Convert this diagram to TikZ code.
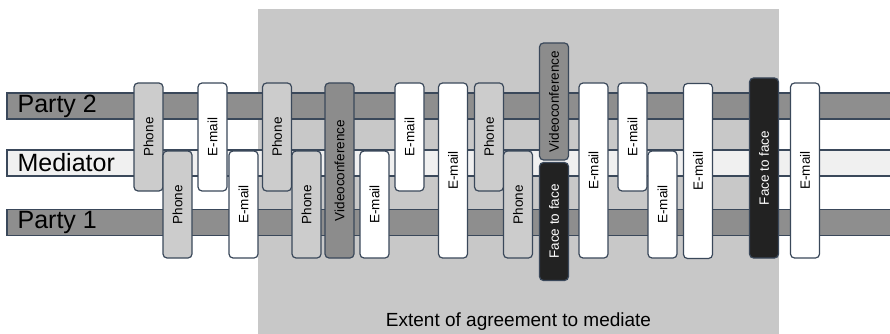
\documentclass[tikz,border=0pt]{standalone}
\usepackage{fontspec}
\setmainfont{Liberation Sans}
\definecolor{bggray}{RGB}{200,200,200}
\definecolor{bargray}{RGB}{142,142,142}
\definecolor{medwhite}{RGB}{240,240,240}
\definecolor{phonegray}{RGB}{204,204,204}
\definecolor{videogray}{RGB}{140,140,140}
\definecolor{facedark}{RGB}{34,34,34}
\definecolor{edgeblue}{RGB}{58,72,90}
\usetikzlibrary{positioning}

\begin{document}
\begin{tikzpicture}[x=1pt,y=-1pt,
  partybar/.style={draw=edgeblue,line width=1.2pt,minimum width=884pt,minimum height=26pt,inner sep=0pt},
  barlabel/.style={font=\fontsize{25}{30}\selectfont,inner sep=0pt},
  chan/.style={draw=edgeblue,line width=1.2pt,rounded corners=4pt,rotate=90,
    minimum height=29pt,inner sep=0pt,font=\fontsize{13.5}{16}\selectfont},
  phone/.style={chan,fill=phonegray},
  email/.style={chan,fill=white},
  video/.style={chan,fill=videogray},
  face/.style={chan,fill=facedark,text=white},
  rowtop/.style={minimum width=108pt},
  rowbot/.style={minimum width=107pt},
  rowfull/.style={minimum width=175pt}
]
  \useasboundingbox (0,0) rectangle (890,334);
  % Agreement region
  \node[fill=bggray,minimum width=521pt,minimum height=327pt,inner sep=0pt] (agreement) at (518.5,172.5) {};
  \node[font=\fontsize{19}{23}\selectfont,inner sep=0pt,above=6pt of agreement.south] (extent) {Extent of agreement to mediate};
  % Party bars
  \node[partybar,fill=bargray] (party2) at (449,106) {};
  \node[partybar,fill=medwhite] (mediator) at (449,163) {};
  \node[partybar,fill=bargray] (party1) at (449,222.5) {};
  \node[barlabel,right=11pt of party2.west] (lbl2) {Party 2};
  \node[barlabel,right=11pt of mediator.west] (lblm) {Mediator};
  \node[barlabel,right=11pt of party1.west] (lbl1) {Party 1};
  % Channels, left to right
  \node[phone,rowtop] (c1) at (148.5,137) {Phone};
  \node[phone,rowbot] (c2) at (177.5,204.5) {Phone};
  \node[email,rowtop] (c3) at (212.5,137) {E-mail};
  \node[email,rowbot] (c4) at (243.5,204.5) {E-mail};
  \node[phone,rowtop] (c5) at (277,137) {Phone};
  \node[phone,rowbot] (c6) at (306.5,204.5) {Phone};
  \node[video,rowfull] (c7) at (339.5,170.5) {Videoconference};
  \node[email,rowbot] (c8) at (374.5,204.5) {E-mail};
  \node[email,rowtop] (c9) at (409.5,137) {E-mail};
  \node[email,rowfull] (c10) at (453,170.5) {E-mail};
  \node[phone,rowtop] (c11) at (489,137) {Phone};
  \node[phone,rowbot] (c12) at (518,204.5) {Phone};
  \node[video,minimum width=117pt] (c13) at (554,101.5) {Videoconference};
  \node[face,minimum width=118pt] (c14) at (554,221.5) {Face to face};
  \node[email,rowfull] (c15) at (593.5,170.5) {E-mail};
  \node[email,rowtop] (c16) at (632.5,137) {E-mail};
  \node[email,rowbot] (c17) at (662.5,204.5) {E-mail};
  \node[email,rowfull] (c18) at (698,171) {E-mail};
  \node[face,minimum width=180pt] (c19) at (764,168) {Face to face};
  \node[email,rowfull] (c20) at (805,170.5) {E-mail};
\end{tikzpicture}
\end{document}
